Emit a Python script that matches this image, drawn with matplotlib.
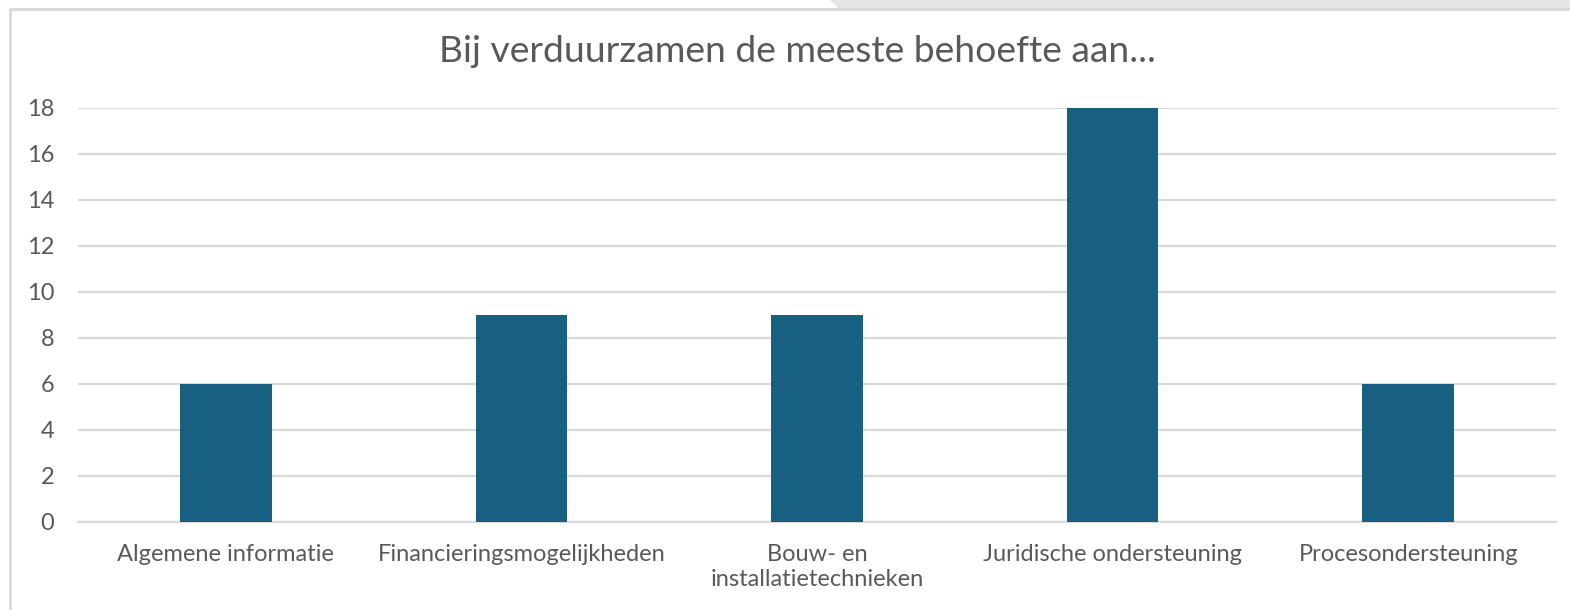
import matplotlib.pyplot as plt
from matplotlib.patches import Polygon, Rectangle
import numpy as np

plt.rcParams['font.family'] = ['Lato', 'DejaVu Sans']

categories = ['Algemene informatie', 'Financieringsmogelijkheden',
              'Bouw- en\ninstallatietechnieken', 'Juridische ondersteuning',
              'Procesondersteuning']
values = [6, 9, 9, 18, 6]
title = 'Bij verduurzamen de meeste behoefte aan...'

fig = plt.figure(figsize=(15.7, 6.1), dpi=100)
W, H = 1570, 610

# grijze rand rond de grafiek (zoals een screenshot uit Excel)
fig.patches.append(Polygon([(830 / W, 1), (1, 1), (1, 1 - 10 / H), (840 / W, 1 - 10 / H)],
                           closed=True, transform=fig.transFigure,
                           facecolor='#e6e6e6', edgecolor='none'))
fig.patches.append(Rectangle((10 / W, -0.1), 1.2, 1 - 9 / H + 0.1, transform=fig.transFigure,
                             facecolor='none', edgecolor='#d9d9d9', linewidth=2))

ax = fig.add_axes([78 / W, 1 - 522 / H, (1556 - 78) / W, (522 - 108) / H])
x = np.arange(len(categories))
ax.bar(x, values, width=0.31, color='#176082', zorder=3)

ax.set_xlim(-0.5, len(categories) - 0.5)
ax.set_ylim(0, 18)
ax.set_yticks(np.arange(0, 19, 2))
ax.set_xticks(x)
ax.set_xticklabels(categories, fontsize=17, color='#595959', linespacing=1.2)
ax.tick_params(axis='y', labelsize=17, labelcolor='#595959', length=0, pad=17)
ax.tick_params(axis='x', length=0, pad=16)
ax.grid(axis='y', color='#d9d9d9', linewidth=1.6, zorder=0)
for s in ['top', 'right', 'left']:
    ax.spines[s].set_visible(False)
ax.spines['bottom'].set_color('#d9d9d9')
ax.spines['bottom'].set_linewidth(1.6)

fig.text(797 / W, 1 - 52 / H, title, ha='center', va='center', fontsize=26.8, color='#595959')

fig.savefig('out.png', dpi=100)
